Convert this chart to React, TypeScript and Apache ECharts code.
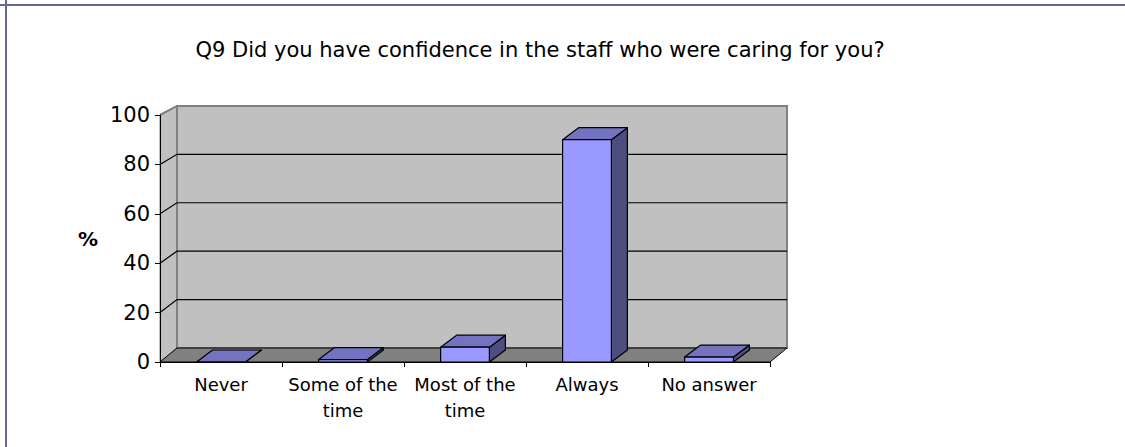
import React, { useEffect, useRef } from "react";
import * as echarts from "echarts";

const TITLE = "Q9 Did you have confidence in the staff who were caring for you?";
const categories = ["Never", "Some of the\ntime", "Most of the\ntime", "Always", "No answer"];
const values = [0, 1, 6, 90, 2];
const yTicks = [0, 20, 40, 60, 80, 100];
const yAxisName = "%";

const FONT = "'DejaVu Sans', 'Liberation Sans', Arial, sans-serif";

export default function App() {
  const ref = useRef<HTMLDivElement>(null);

  useEffect(() => {
    if (!ref.current) return;
    document.body.style.margin = "0";
    const chart = echarts.init(ref.current, undefined, { renderer: "svg" });

    const WX = 17; // wall depth x
    const WY = -14; // wall depth y at floor
    const K = 0.98; // slight perspective for back wall
    const BX = 16; // bar depth x
    const BY = -12; // bar depth y

    const yMin = yTicks[0];
    const yMax = yTicks[yTicks.length - 1];
    const step = yTicks[1] - yTicks[0];

    const wallsRender = (params: any, api: any) => {
      const cs = params.coordSys;
      const x0 = cs.x;
      const x1 = cs.x + cs.width;
      const yBase = api.coord([0, yMin])[1];
      const backY = (v: number) => yBase + WY + (api.coord([0, v])[1] - yBase) * K;
      const frontY = (v: number) => api.coord([0, v])[1];
      const children: any[] = [];
      children.push({
        type: "polygon",
        shape: {
          points: [
            [x0, frontY(yMax)],
            [x0 + WX, backY(yMax)],
            [x0 + WX, backY(yMin)],
            [x0, yBase],
          ],
        },
        style: { fill: "#c0c0c0", stroke: "#808080", lineWidth: 1 },
      });
      children.push({
        type: "polygon",
        shape: {
          points: [
            [x0 + WX, backY(yMax)],
            [x1 + WX, backY(yMax)],
            [x1 + WX, backY(yMin)],
            [x0 + WX, backY(yMin)],
          ],
        },
        style: { fill: "#c0c0c0", stroke: "#808080", lineWidth: 2 },
      });
      yTicks.forEach((t) => {
        if (t === yMin) return;
        const isTop = t === yMax;
        children.push({
          type: "polyline",
          shape: {
            points: [
              [x0, frontY(t)],
              [x0 + WX, backY(t)],
              [x1 + WX, backY(t)],
            ],
          },
          style: { fill: null, stroke: isTop ? "#808080" : "#000", lineWidth: isTop ? 2 : 1.2 },
        });
      });
      children.push({
        type: "polygon",
        shape: {
          points: [
            [x0, yBase],
            [x1, yBase],
            [x1 + WX, backY(yMin)],
            [x0 + WX, backY(yMin)],
          ],
        },
        style: { fill: "#808080", stroke: "#000", lineWidth: 1 },
      });
      return { type: "group", children };
    };

    const barsRender = (params: any, api: any) => {
      const idx = api.value(0);
      const val = api.value(1);
      const top = api.coord([idx, val]);
      const base = api.coord([idx, 0]);
      const bw = api.size([1, 0])[0] * 0.4;
      const xl = top[0] - bw / 2;
      const xr = top[0] + bw / 2;
      const yt = top[1];
      const yb = base[1];
      const stroke = { stroke: "#000", lineWidth: 1.2, lineJoin: "round" };
      return {
        type: "group",
        children: [
          {
            type: "polygon",
            shape: { points: [[xr, yt], [xr + BX, yt + BY], [xr + BX, yb + BY], [xr, yb]] },
            style: { fill: "#4d4d80", ...stroke },
          },
          {
            type: "polygon",
            shape: { points: [[xl, yt], [xr, yt], [xr + BX, yt + BY], [xl + BX, yt + BY]] },
            style: { fill: "#7373bf", ...stroke },
          },
          {
            type: "polygon",
            shape: { points: [[xl, yt], [xr, yt], [xr, yb], [xl, yb]] },
            style: { fill: "#9999ff", ...stroke },
          },
        ],
      };
    };

    chart.setOption({
      animation: false,
      backgroundColor: "#ffffff",
      textStyle: { fontFamily: FONT },
      graphic: [
        {
          type: "line",
          shape: { x1: 0, y1: 5, x2: 1125, y2: 5 },
          style: { stroke: "#666699", lineWidth: 2 },
          z: 100,
        },
        {
          type: "line",
          shape: { x1: 6, y1: 0, x2: 6, y2: 447 },
          style: { stroke: "#666699", lineWidth: 2 },
          z: 100,
        },
        {
          type: "text",
          x: 540,
          y: 50,
          style: {
            text: TITLE,
            fill: "#000",
            font: `21px ${FONT}`,
            textAlign: "center",
            textVerticalAlign: "middle",
          },
        },
      ],
      grid: { left: 160, right: 355, top: 115, bottom: 85, containLabel: false },
      xAxis: {
        type: "category",
        data: categories,
        boundaryGap: true,
        axisLine: { show: true, lineStyle: { color: "#000", width: 1 } },
        axisTick: { show: true, length: 5, lineStyle: { color: "#000" }, interval: 0 },
        axisLabel: {
          interval: 0,
          color: "#000",
          fontSize: 18,
          fontFamily: FONT,
          lineHeight: 26,
          margin: 9,
        },
        splitLine: { show: false },
        z: 1,
      },
      yAxis: {
        type: "value",
        min: yMin,
        max: yMax,
        interval: step,
        name: yAxisName,
        nameLocation: "middle",
        nameRotate: 0,
        nameGap: 62,
        nameTextStyle: { color: "#000", fontSize: 20, fontWeight: "bold", fontFamily: FONT },
        axisLine: { show: true, lineStyle: { color: "#000", width: 1 } },
        axisTick: { show: true, length: 5, lineStyle: { color: "#000" } },
        axisLabel: { color: "#000", fontSize: 21, fontFamily: FONT, margin: 10 },
        splitLine: { show: false },
        z: 1,
      },
      series: [
        {
          type: "custom",
          name: "walls",
          renderItem: wallsRender,
          data: [[0, 0]],
          silent: true,
          z: 0,
        },
        {
          type: "custom",
          name: "bars",
          renderItem: barsRender,
          data: values.map((v, i) => [i, v]),
          silent: true,
          z: 3,
        },
      ],
    });

    return () => chart.dispose();
  }, []);

  return (
    <div
      ref={ref}
      style={{ position: "absolute", left: 0, top: 0, width: 1125, height: 447, background: "#fff" }}
    />
  );
}
